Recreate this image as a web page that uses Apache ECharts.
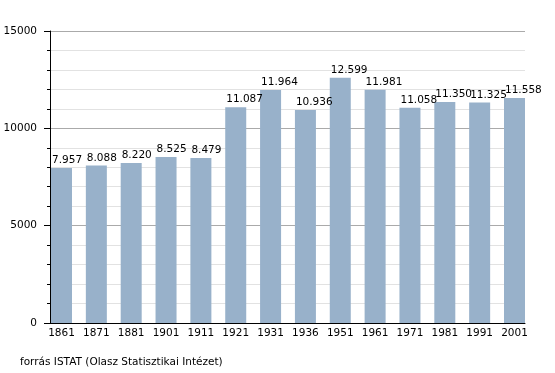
<!DOCTYPE html>
<html>
<head>
<meta charset="utf-8">
<script src="https://cdn.jsdelivr.net/npm/echarts@6/dist/echarts.min.js"></script>
<style>
html,body{margin:0;padding:0;background:#fff;}
#c{width:555px;height:373px;}
</style>
</head>
<body>
<div id="c"></div>
<script>
var years = ['1861','1871','1881','1901','1911','1921','1931','1936','1951','1961','1971','1981','1991','2001'];
var population = [7957, 8088, 8220, 8525, 8479, 11087, 11964, 10936, 12599, 11981, 11058, 11350, 11325, 11558];
var yMin = 0, yMax = 15000, yStep = 5000;
var sourceNote = 'forrás ISTAT (Olasz Statisztikai Intézet)';

var FONT = 'DejaVu Sans';
var FS = 10.5;
function fmt(n){ return String(n).replace(/\B(?=(\d{3})+(?!\d))/g, '.'); }

var chart = echarts.init(document.getElementById('c'), null, {renderer:'canvas'});
chart.setOption({
  animation: false,
  backgroundColor: '#ffffff',
  textStyle: {fontFamily: FONT},
  graphic: [{
    type: 'text', left: 20, top: 357,
    style: {text: sourceNote, fill: '#000', font: FS + 'px "DejaVu Sans"'}
  }],
  grid: [
    {left: 44.08, right: 23.08, top: 31, bottom: 50},
    {left: 50, right: 30, top: 31, bottom: 50}
  ],
  xAxis: [
    {
      type: 'category', gridIndex: 0, data: years,
      axisLine: {show: false}, axisTick: {show: false},
      axisLabel: {color: '#000', fontSize: FS, fontFamily: FONT, margin: 5, interval: 0},
      splitLine: {show: false}
    },
    {
      type: 'value', gridIndex: 1, min: 0, max: 1,
      axisLine: {show: true, onZero: false, lineStyle: {color: '#000', width: 1}},
      axisTick: {show: false}, axisLabel: {show: false}, splitLine: {show: false}
    }
  ],
  yAxis: [
    {type: 'value', gridIndex: 0, min: yMin, max: yMax, interval: yStep, show: false, splitLine: {show: false}},
    {
      type: 'value', gridIndex: 1, min: yMin, max: yMax, interval: yStep,
      axisLine: {show: true, lineStyle: {color: '#000', width: 1}},
      axisTick: {show: true, length: 6, lineStyle: {color: '#000'}},
      minorTick: {show: true, splitNumber: 5, length: 3, lineStyle: {color: '#000'}},
      axisLabel: {color: '#000', fontSize: FS, fontFamily: FONT, margin: 13,
        formatter: function(v){ return String(v); }},
      splitLine: {show: true, lineStyle: {color: '#aaaaaa', width: 1}},
      minorSplitLine: {show: true, lineStyle: {color: '#e2e2e2', width: 1}}
    }
  ],
  series: [{
    type: 'bar', xAxisIndex: 0, yAxisIndex: 0,
    data: population, barWidth: 21,
    itemStyle: {color: '#98b1ca'},
    label: {
      show: true, position: [1, -2], align: 'left', verticalAlign: 'bottom',
      color: '#000', fontSize: FS, fontFamily: FONT,
      formatter: function(p){ return fmt(p.value); }
    }
  }]
});
</script>
</body>
</html>
